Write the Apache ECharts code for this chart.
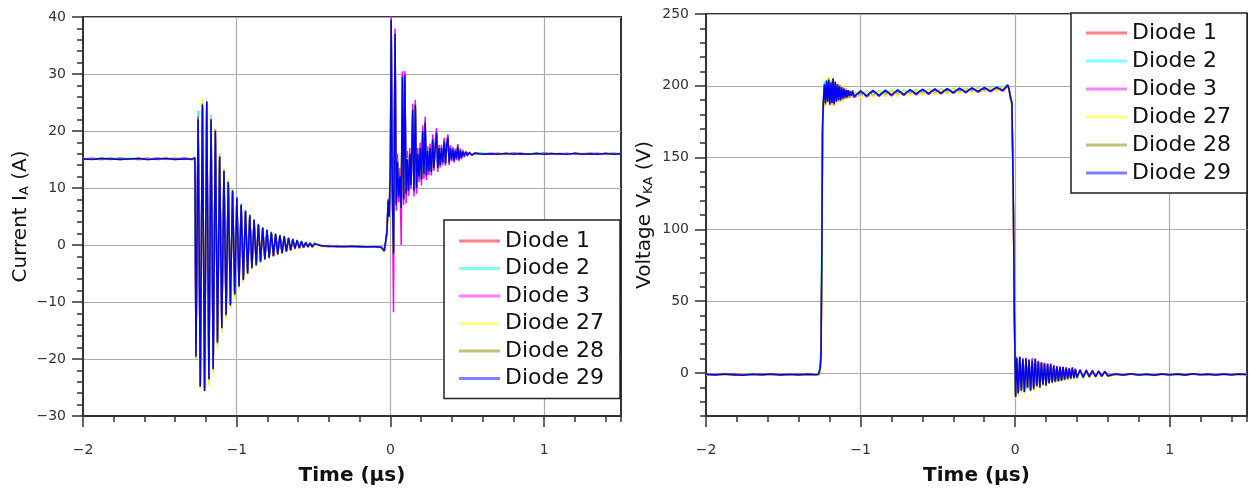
<!DOCTYPE html>
<html>
<head>
<meta charset="utf-8">
<title>Diode switching waveforms</title>
<script src="https://cdn.jsdelivr.net/npm/echarts@6/dist/echarts.min.js"></script>
<style>
  html, body { margin: 0; padding: 0; background: #fff; }
  #chart { width: 1249px; height: 491px; }
</style>
</head>
<body>
<div id="chart"></div>
<script>
// sample times (µs) for the current plot
const timeA = [
  -2, -1.94, -1.88, -1.82, -1.76, -1.7, -1.64, -1.58, -1.52, -1.46, -1.4, -1.34, -1.29, -1.272,
  -1.265, -1.251, -1.237, -1.223, -1.209, -1.195, -1.181, -1.167, -1.153, -1.139, -1.125, -1.111, -1.097, -1.083,
  -1.069, -1.055, -1.041, -1.027, -1.013, -0.999, -0.985, -0.971, -0.957, -0.943, -0.929, -0.915, -0.901, -0.887,
  -0.873, -0.859, -0.845, -0.831, -0.817, -0.803, -0.789, -0.775, -0.761, -0.747, -0.733, -0.719, -0.705, -0.691,
  -0.677, -0.663, -0.649, -0.635, -0.621, -0.607, -0.593, -0.579, -0.565, -0.551, -0.537, -0.523, -0.509, -0.495,
  -0.45, -0.4, -0.35, -0.3, -0.25, -0.2, -0.15, -0.1, -0.06,
  -0.04, -0.03, -0.022, -0.015, -0.008, 0, 0.005, 0.012, 0.02, 0.03, 0.038, 0.046, 0.054, 0.062, 0.07, 0.078,
  0.086, 0.094, 0.102, 0.11, 0.118, 0.126, 0.134, 0.145, 0.153, 0.162, 0.17, 0.178, 0.186, 0.194, 0.202, 0.21,
  0.218, 0.226, 0.234, 0.242, 0.25, 0.258, 0.266, 0.275, 0.283, 0.291, 0.3, 0.308, 0.316, 0.324, 0.332, 0.34,
  0.35, 0.358, 0.366, 0.374, 0.382, 0.39, 0.398, 0.406, 0.414, 0.422, 0.43, 0.438, 0.446, 0.454, 0.462, 0.47,
  0.48, 0.49, 0.5, 0.515, 0.53, 0.55,
  0.6, 0.65, 0.7, 0.75, 0.8, 0.85, 0.9, 0.95, 1, 1.05, 1.1, 1.15, 1.2, 1.25, 1.3, 1.35, 1.4, 1.45, 1.5,
]

// anode current (A), one array per diode, same order as timeA
const diode1Current = [
  15.0, 15.1, 15.1, 15.2, 15.0, 15.1, 15.1, 15.2, 15.0, 15.1, 15.1, 15.2, 15.0, 15.2,
  -19.0, 21.5, -24.5, 24.0, -25.0, 24.8, -23.0, 21.5, -21.2, 19.6, -16.6, 15.2, -14.0, 12.8,
  -11.8, 10.7, -10.2, 9.2, -8.3, 8.0, -7.0, 6.8, -5.9, 5.7, -4.7, 5.0, -3.9, 4.2,
  -3.4, 3.5, -2.8, 2.9, -2.4, 2.5, -2.1, 2.1, -1.8, 1.8, -1.5, 1.6, -1.3, 1.4,
  -1.0, 1.1, -0.8, 0.9, -0.6, 0.7, -0.5, 0.5, -0.4, 0.4, -0.3, 0.3, -0.2, 0.2,
  -0.2, -0.1, -0.3, -0.2, -0.3, -0.2, -0.3, -0.4, -0.3,
  -0.9, 0.6, 2.2, 7.2, 4.6, 13.0, 38.8, 9.5, -1.0, 36.5, 7.5, 14.0, 8.8, 11.5, 6.8, 29.0,
  8.5, 29.2, 9.3, 14.8, 9.8, 15.6, 10.8, 23.2, 9.8, 24.2, 10.3, 15.8, 12.2, 16.8, 11.8, 19.6,
  12.7, 21.1, 12.4, 16.3, 13.2, 16.8, 13.0, 18.2, 13.7, 16.8, 19.4, 13.7, 16.8, 14.2, 16.8, 14.7,
  18.0, 14.5, 17.3, 18.6, 14.7, 16.8, 15.1, 16.6, 15.0, 16.4, 15.3, 17.1, 15.1, 16.4, 15.4, 16.3,
  15.7, 16.2, 15.9, 16.1, 15.9, 16.0,
  16.0, 15.9, 16.1, 15.9, 16.0, 16.1, 15.9, 16.0, 15.9, 16.1, 15.9, 16.0, 15.9, 16.0, 16.1, 15.9, 16.0, 15.9, 16.1,
]
const diode2Current = [
  15.2, 15.1, 15.0, 15.2, 15.1, 15.2, 15.0, 15.1, 15.2, 15.0, 15.1, 15.2, 15.1, 15.2,
  -18.0, 23.5, -24.0, 25.0, -24.6, 24.2, -24.2, 22.8, -20.8, 19.2, -17.6, 16.0, -14.0, 13.4,
  -11.6, 11.4, -10.0, 9.8, -8.2, 8.5, -6.8, 7.3, -5.8, 6.2, -4.6, 5.4, -3.8, 4.5,
  -3.3, 3.7, -2.7, 3.1, -2.3, 2.7, -2.0, 2.3, -1.7, 2.0, -1.4, 1.8, -1.2, 1.6,
  -1.0, 1.3, -0.7, 1.1, -0.5, 0.9, -0.4, 0.7, -0.3, 0.5, -0.2, 0.4, -0.2, 0.3,
  -0.1, -0.2, -0.1, -0.2, -0.3, -0.2, -0.2, -0.3, -0.3,
  -0.8, 1.0, 3.0, 8.2, 5.5, 15.0, 39.0, 11.0, -2.0, 37.5, 7.2, 15.0, 8.2, 12.5, 7.0, 30.0,
  7.6, 30.2, 8.6, 15.6, 9.2, 16.4, 10.2, 24.0, 9.2, 25.0, 9.7, 16.4, 11.7, 17.4, 11.2, 20.2,
  12.2, 21.9, 11.9, 16.9, 12.7, 17.4, 12.5, 18.9, 13.2, 17.4, 20.1, 13.2, 17.3, 13.8, 17.3, 14.2,
  18.5, 14.0, 17.8, 19.2, 14.2, 17.3, 14.8, 17.1, 14.6, 16.8, 15.0, 17.6, 14.8, 16.8, 15.1, 16.6,
  15.4, 16.4, 15.7, 16.3, 15.7, 16.2,
  16.1, 16.0, 15.9, 16.0, 16.1, 15.9, 16.0, 16.1, 16.0, 15.9, 16.1, 16.0, 16.0, 15.9, 16.1, 16.0, 15.9, 16.1, 16.0,
]
const diode3Current = [
  15.1, 15.2, 15.1, 15.0, 15.2, 15.1, 15.0, 15.1, 15.2, 15.1, 15.0, 15.2, 15.1, 15.1,
  -19.2, 22.4, -25.0, 24.2, -25.2, 25.0, -23.8, 21.6, -22.0, 20.4, -17.2, 15.0, -14.8, 13.2,
  -12.4, 11.2, -10.6, 9.2, -8.8, 8.4, -7.3, 6.8, -6.2, 6.0, -5.0, 5.0, -4.1, 4.3,
  -3.6, 3.5, -3.0, 2.9, -2.6, 2.5, -2.3, 2.1, -2.0, 1.8, -1.7, 1.6, -1.5, 1.4,
  -1.2, 1.1, -1.0, 0.9, -0.7, 0.7, -0.6, 0.5, -0.5, 0.3, -0.4, 0.2, -0.4, 0.1,
  -0.2, -0.3, -0.2, -0.3, -0.3, -0.2, -0.4, -0.3, -0.5,
  -1.2, 0.5, 2.8, 8.0, 5.2, 16.5, 40.3, 12.0, -11.8, 38.0, 6.0, 16.0, 7.5, 13.5, 0.0, 30.5,
  7.0, 30.5, 7.3, 16.5, 8.6, 17.0, 9.8, 24.8, 8.5, 25.5, 9.0, 17.0, 11.0, 18.0, 10.5, 21.0,
  11.6, 22.5, 11.4, 17.3, 12.3, 17.8, 12.2, 19.4, 13.0, 17.8, 20.5, 12.8, 17.6, 13.6, 17.6, 14.0,
  18.8, 13.9, 18.0, 19.4, 14.0, 17.5, 14.7, 17.2, 14.5, 16.9, 14.9, 17.7, 14.7, 16.9, 15.0, 16.7,
  15.4, 16.5, 15.6, 16.3, 15.7, 16.2,
  15.9, 16.1, 16.0, 15.9, 16.1, 16.0, 15.9, 16.0, 16.1, 16.0, 15.9, 16.1, 15.9, 16.0, 16.0, 16.1, 15.9, 16.0, 16.0,
]
const diode27Current = [
  15.0, 15.1, 15.2, 15.1, 15.1, 15.0, 15.2, 15.1, 15.0, 15.2, 15.1, 15.0, 15.2, 15.1,
  -20.0, 21.0, -25.2, 25.6, -25.8, 24.6, -24.6, 22.4, -22.6, 20.6, -18.2, 15.8, -15.4, 13.4,
  -13.0, 11.6, -11.2, 9.8, -9.4, 8.0, -7.8, 6.6, -6.6, 5.6, -5.4, 4.8, -4.4, 4.0,
  -3.8, 3.3, -3.2, 2.7, -2.7, 2.4, -2.4, 2.0, -2.0, 1.7, -1.8, 1.5, -1.5, 1.3,
  -1.2, 1.0, -1.0, 0.8, -0.8, 0.6, -0.6, 0.5, -0.5, 0.3, -0.4, 0.2, -0.3, 0.1,
  -0.3, -0.2, -0.2, -0.3, -0.3, -0.3, -0.2, -0.4, -0.4,
  -1.1, 0.4, 2.0, 7.0, 4.5, 13.5, 39.0, 9.0, -1.5, 36.5, 7.8, 14.2, 9.0, 11.8, 7.0, 29.2,
  8.8, 29.4, 9.6, 15.2, 10.0, 15.8, 11.0, 23.4, 10.0, 24.4, 10.6, 16.1, 12.4, 17.0, 12.0, 19.8,
  12.9, 21.3, 12.6, 16.6, 13.3, 17.0, 13.1, 18.4, 13.9, 17.0, 19.6, 13.9, 17.0, 14.4, 17.0, 14.8,
  18.1, 14.6, 17.4, 18.8, 14.9, 17.0, 15.2, 16.7, 15.2, 16.5, 15.4, 17.2, 15.2, 16.5, 15.5, 16.4,
  15.8, 16.3, 15.9, 16.1, 16.0, 16.0,
  15.9, 16.0, 16.0, 16.1, 15.9, 15.9, 16.1, 16.0, 15.9, 16.0, 16.1, 15.9, 16.0, 16.1, 15.9, 16.0, 16.1, 16.0, 15.9,
]
const diode28Current = [
  15.1, 15.1, 15.0, 15.1, 15.2, 15.1, 15.1, 15.0, 15.1, 15.1, 15.2, 15.1, 15.0, 15.2,
  -19.8, 22.6, -24.9, 24.8, -25.4, 25.0, -23.6, 22.2, -21.5, 20.2, -17.3, 15.6, -14.6, 13.1,
  -12.4, 11.1, -10.7, 9.6, -8.8, 8.3, -7.4, 7.1, -6.2, 6.0, -5.1, 5.3, -4.1, 4.5,
  -3.6, 3.7, -3.0, 3.1, -2.6, 2.7, -2.3, 2.3, -2.0, 2.0, -1.7, 1.8, -1.5, 1.6,
  -1.2, 1.3, -1.0, 1.1, -0.7, 0.9, -0.6, 0.7, -0.5, 0.5, -0.4, 0.4, -0.3, 0.3,
  -0.2, -0.2, -0.3, -0.2, -0.2, -0.3, -0.3, -0.3, -0.4,
  -1.0, 0.7, 2.4, 7.6, 4.9, 14.2, 39.2, 10.2, -1.8, 36.8, 7.2, 14.6, 8.6, 12.1, 6.6, 29.4,
  8.1, 29.6, 9.1, 15.1, 9.6, 16.1, 10.6, 23.6, 9.6, 24.5, 10.1, 16.1, 12.1, 17.1, 11.6, 19.9,
  12.6, 21.4, 12.3, 16.6, 13.1, 17.1, 12.9, 18.6, 13.6, 17.1, 19.6, 13.6, 17.1, 14.1, 17.1, 14.6,
  18.1, 14.4, 17.6, 18.8, 14.6, 17.1, 15.1, 16.9, 14.9, 16.6, 15.3, 17.2, 15.1, 16.6, 15.4, 16.5,
  15.7, 16.3, 15.8, 16.2, 15.8, 16.1,
  16.0, 15.9, 16.0, 16.0, 16.1, 15.9, 16.0, 15.9, 16.1, 16.0, 16.0, 15.9, 16.1, 16.0, 15.9, 16.0, 16.0, 16.1, 15.9,
]
const diode29Current = [
  15.1, 15.0, 15.2, 15.1, 15.0, 15.1, 15.2, 15.0, 15.1, 15.2, 15.0, 15.1, 15.1, 15.3,
  -19.5, 22.0, -24.8, 24.6, -25.6, 25.2, -23.5, 22.0, -21.8, 20.0, -17.0, 15.5, -14.5, 13.0,
  -12.2, 11.0, -10.5, 9.5, -8.6, 8.2, -7.2, 7.0, -6.1, 5.9, -4.9, 5.2, -4.0, 4.4,
  -3.5, 3.6, -2.9, 3.0, -2.5, 2.6, -2.2, 2.2, -1.9, 1.9, -1.6, 1.7, -1.4, 1.5,
  -1.1, 1.2, -0.9, 1.0, -0.6, 0.8, -0.5, 0.6, -0.4, 0.4, -0.3, 0.3, -0.3, 0.2,
  -0.1, -0.2, -0.2, -0.3, -0.2, -0.3, -0.3, -0.3, -0.4,
  -1.0, 0.8, 2.5, 7.8, 5.0, 14.0, 39.5, 10.0, -1.5, 37.0, 7.0, 14.5, 8.5, 12.0, 6.5, 29.5,
  8.0, 29.8, 9.0, 15.0, 9.5, 16.0, 10.5, 23.7, 9.5, 24.6, 10.0, 16.0, 12.0, 17.0, 11.5, 20.0,
  12.5, 21.5, 12.2, 16.5, 13.0, 17.0, 12.8, 18.5, 13.5, 17.0, 19.7, 13.5, 17.0, 14.0, 17.0, 14.5,
  18.2, 14.3, 17.5, 18.9, 14.5, 17.0, 15.0, 16.8, 14.8, 16.5, 15.2, 17.3, 15.0, 16.5, 15.3, 16.4,
  15.6, 16.3, 15.8, 16.2, 15.8, 16.1,
  15.9, 16.0, 15.9, 16.1, 15.9, 16.0, 15.9, 16.1, 15.9, 16.0, 16.0, 15.9, 16.1, 15.9, 16.0, 15.9, 16.1, 15.9, 16.0,
]

// sample times (µs) for the voltage plot
const timeV = [
  -2, -1.94, -1.88, -1.82, -1.76, -1.7, -1.64, -1.58, -1.52, -1.46, -1.4, -1.34, -1.29, -1.272,
  -1.266, -1.262, -1.256, -1.25, -1.246, -1.24, -1.234,
  -1.227, -1.22, -1.213, -1.206, -1.199, -1.192, -1.185, -1.178, -1.171, -1.164, -1.157, -1.15, -1.143,
  -1.136, -1.129, -1.122, -1.115, -1.108, -1.101, -1.094, -1.087, -1.08, -1.073, -1.066, -1.059, -1.052,
  -1.04, -1, -0.96, -0.92, -0.88, -0.84, -0.8, -0.76, -0.72, -0.68, -0.64, -0.6, -0.56,
  -0.52, -0.48, -0.44, -0.4, -0.36, -0.32, -0.28, -0.24, -0.2, -0.16, -0.12, -0.08,
  -0.048, -0.04, -0.032, -0.021, -0.013, -0.009, -0.005, 0, 0.003,
  0.01, 0.02, 0.03, 0.04, 0.05, 0.06, 0.07, 0.08, 0.09, 0.1, 0.11, 0.12, 0.13, 0.14, 0.15, 0.16, 0.17, 0.18, 0.19, 0.2,
  0.21, 0.22, 0.23, 0.24, 0.25, 0.26, 0.27, 0.28, 0.29, 0.3, 0.31, 0.32, 0.33, 0.34, 0.35, 0.36, 0.37, 0.38, 0.39, 0.4,
  0.42, 0.44, 0.46, 0.48, 0.5, 0.52, 0.54, 0.56, 0.58, 0.6,
  0.65, 0.7, 0.75, 0.8, 0.85, 0.9, 0.95, 1, 1.05, 1.1, 1.15, 1.2, 1.25, 1.3, 1.35, 1.4, 1.45, 1.5,
]

// cathode-anode voltage (V), one array per diode, same order as timeV
const diode1Voltage = [
  -1.2, -0.9, -1.4, -1.0, -0.8, -1.3, -1.1, -1.5, -0.9, -1.2, -0.8, -1.3, -1.0, -1.1,
  -0.8, 2.0, 10.0, 85.0, 168.0, 188.0, 200.0,
  189, 202, 188, 203, 188, 203, 187, 204, 188, 202, 190, 200, 189,
  199, 191, 198, 190, 197, 192, 198, 191, 196, 192, 197, 192, 195,
  192.0, 196.0, 192.5, 196.2, 192.8, 196.4, 193.2, 196.6, 193.5, 196.9, 193.9, 197.1, 194.2,
  197.3, 194.6, 197.6, 195.0, 197.8, 195.3, 198.1, 195.7, 198.3, 196.0, 198.6, 196.5,
  200.0, 197.5, 192.0, 186.0, 128.0, 86.0, 36.0, 3.0, -15.0,
  9.5, -13, 10.5, -11, 10, -12, 9, -11, 8.5, -11, 9, -10, 9, -9.5, 7.5, -9, 7.5, -7.5, 6, -8,
  6.5, -6.5, 5.5, -6, 5, -5.5, 4, -5, 4, -4.6, 3.5, -4.2, 3.2, -3.8, 3.2, -3.5, 3, -3.2, 2.2, -3.0,
  1.8, -2.8, 1.6, -2.4, 1.3, -2.3, 1.0, -2.0, 0.8, -1.8,
  -1.0, -1.3, -0.8, -1.5, -1.1, -1.3, -0.9, -1.4, -1.0, -1.2, -0.8, -1.4, -1.1, -1.2, -0.9, -1.5, -1.0, -1.2,
]
const diode2Voltage = [
  -0.9, -1.3, -1.0, -1.5, -1.1, -0.8, -1.4, -1.0, -1.2, -0.9, -1.3, -1.1, -0.8, -1.2,
  -0.6, 5.0, 20.0, 120.0, 176.0, 192.0, 203.0,
  190, 204, 188, 202, 189, 204, 189, 203, 188, 201, 190, 202, 191,
  199, 191, 198, 192, 199, 192, 196, 193, 197, 192, 196, 194, 196,
  196.2, 193.0, 196.5, 193.3, 196.7, 193.7, 196.9, 194.0, 197.2, 194.4, 197.4, 194.7, 197.7,
  195.0, 197.9, 195.4, 198.2, 195.7, 198.4, 196.1, 198.7, 196.4, 198.9, 196.8, 199.2,
  200.8, 198.5, 194.0, 189.0, 138.0, 95.0, 44.0, 8.0, -14.0,
  11.5, -13, 10, -13.5, 10.5, -11, 9.5, -11.5, 9.5, -10.5, 9, -11.5, 8.5, -9.5, 8.5, -9, 6.5, -8.5, 7, -7.5,
  5.5, -7.5, 6.5, -6, 5.5, -6.5, 4, -5, 4.5, -4.8, 3.6, -4.8, 3.8, -3.6, 3.2, -4.0, 3.0, -3.8, 2.8, -2.9,
  2.2, -3.2, 1.9, -2.4, 1.7, -2.7, 1.3, -2.1, 1.1, -2.2,
  -0.7, -1.4, -0.8, -1.2, -1.0, -1.5, -0.8, -1.1, -0.9, -1.4, -0.7, -1.3, -1.0, -1.1, -0.8, -1.4, -0.9, -1.2,
]
const diode3Voltage = [
  -1.3, -1.0, -1.2, -0.8, -1.4, -1.1, -0.9, -1.3, -1.0, -1.5, -1.1, -0.9, -1.3, -1.2,
  -1.2, 1.0, 8.0, 80.0, 165.0, 187.0, 199.0,
  187, 204, 190, 203, 186, 203, 189, 204, 186, 202, 188, 202, 189,
  201, 189, 200, 190, 198, 191, 198, 191, 197, 192, 197, 192, 197,
  191.8, 195.6, 192.2, 196.0, 192.6, 196.1, 193.0, 196.5, 193.3, 196.6, 193.7, 197.0, 194.0,
  197.1, 194.4, 197.5, 194.7, 197.6, 195.1, 198.0, 195.4, 198.1, 195.8, 198.6, 196.2,
  200.2, 197.8, 192.5, 187.5, 130.0, 88.0, 38.0, 4.0, -16.0,
  10, -15, 11.5, -12.5, 10, -13.5, 10.5, -10.5, 9.5, -12.5, 10.4, -11.5, 9.5, -9.8, 8.5, -10.5, 7.5, -8.5, 7, -9,
  6.5, -7.5, 6.5, -7, 5.5, -6.5, 5, -6, 4.5, -5.5, 4.5, -5, 4, -4.5, 3.5, -4.2, 4, -4, 3, -3.6,
  2.4, -3.4, 2.2, -3.0, 1.9, -2.8, 1.5, -2.5, 1.3, -2.3,
  -1.0, -1.7, -0.7, -1.5, -1.0, -1.4, -0.8, -1.6, -0.9, -1.3, -0.8, -1.5, -0.8, -1.3, -0.9, -1.4, -0.7, -1.3,
]
const diode27Voltage = [
  -1.4, -1.1, -1.6, -1.2, -1.0, -1.5, -1.2, -1.4, -1.1, -1.6, -1.2, -1.0, -1.4, -1.3,
  -1.3, 0.5, 6.0, 60.0, 150.0, 184.0, 198.0,
  186, 205, 188, 206, 186, 204, 187, 206, 186, 204, 188, 202, 189,
  201, 189, 200, 190, 199, 191, 198, 191, 197, 192, 197, 192, 196,
  195.8, 191.6, 196.1, 192.0, 196.3, 192.4, 196.6, 192.8, 196.8, 193.2, 197.1, 193.5, 197.4,
  193.9, 197.6, 194.3, 197.9, 194.6, 198.1, 195.0, 198.4, 195.4, 198.7, 195.9, 199.0,
  200.3, 197.2, 191.5, 185.0, 120.0, 80.0, 30.0, 0.0, -18.0,
  9, -16, 10, -14, 9, -14.5, 9.5, -12, 8.5, -13, 8, -12.5, 9, -10.5, 7.5, -11, 6.5, -9.5, 6, -9.5,
  5.5, -8, 5.5, -7.5, 4.5, -7, 4, -6.5, 3.5, -6, 3.5, -5.5, 3, -5, 2.5, -4.6, 3, -4.4, 2, -4,
  1.5, -3.8, 1.3, -3.4, 1.0, -3.2, 0.8, -2.8, 0.6, -2.6,
  -1.2, -1.8, -1.0, -1.6, -1.2, -1.9, -1.1, -1.5, -1.3, -1.7, -1.0, -1.6, -1.2, -1.7, -1.0, -1.5, -1.2, -1.4,
]
const diode28Voltage = [
  -1.1, -1.3, -0.9, -1.4, -1.2, -1.0, -1.5, -0.9, -1.2, -1.3, -1.0, -1.4, -1.1, -0.9,
  -0.9, 2.5, 11.0, 88.0, 170.0, 189.0, 200.0,
  187, 204, 189, 205, 187, 203, 188, 205, 188, 202, 189, 201, 190,
  200, 190, 199, 191, 198, 191, 197, 192, 197, 192, 196, 193, 196,
  192.6, 196.3, 192.9, 196.4, 193.3, 196.7, 193.6, 196.8, 194.0, 197.2, 194.3, 197.3, 194.7,
  197.7, 195.0, 197.8, 195.4, 198.2, 195.7, 198.3, 196.1, 198.7, 196.4, 198.8, 196.9,
  200.4, 197.9, 192.8, 187.8, 131.0, 89.0, 39.0, 4.5, -16.5,
  10, -14.5, 10.5, -12.5, 9, -13.5, 9.5, -10.5, 8.5, -12.5, 8, -11.5, 9.5, -9.5, 7.5, -10.5, 6.5, -8.5, 6, -9,
  5.5, -7.5, 5.5, -7, 4.5, -6.5, 4, -6, 3.5, -5.5, 3.5, -5, 3, -4.5, 2.5, -4.2, 3, -3.9, 2.2, -3.6,
  1.8, -3.3, 1.5, -3.0, 1.2, -2.8, 1.0, -2.5, 0.8, -2.3,
  -0.9, -1.6, -0.7, -1.5, -1.0, -1.7, -0.8, -1.4, -0.9, -1.6, -0.7, -1.3, -1.0, -1.5, -0.8, -1.4, -0.9, -1.2,
]
const diode29Voltage = [
  -1.0, -1.5, -0.8, -1.2, -1.6, -0.9, -1.3, -0.7, -1.4, -1.0, -1.5, -0.8, -1.2, -1.0,
  -1.0, 3.0, 12.0, 90.0, 172.0, 190.0, 201.0,
  188, 203, 189, 204, 187, 202, 188, 205, 187, 203, 189, 201, 190,
  200, 190, 199, 191, 198, 192, 197, 192, 197, 193, 196, 193, 196,
  192.5, 196.5, 193.0, 196.8, 193.2, 197.0, 193.6, 197.1, 193.9, 197.4, 194.3, 197.6, 194.6,
  197.8, 194.9, 198.0, 195.3, 198.3, 195.6, 198.5, 196.0, 198.8, 196.3, 199.0, 196.8,
  200.5, 198.0, 193.0, 188.0, 133.0, 90.0, 40.0, 5.0, -17.0,
  10.5, -14, 11, -12, 9.5, -13, 10, -10, 9, -12, 8.5, -11, 10, -9, 8, -10, 7, -8, 6.5, -8.5,
  6, -7, 6, -6.5, 5, -6, 4.5, -5.5, 4, -5, 4, -4.5, 3.5, -4, 3, -3.8, 3.5, -3.5, 2.5, -3.2,
  2.0, -3.0, 1.8, -2.6, 1.5, -2.5, 1.2, -2.2, 1.0, -2.0,
  -0.8, -1.5, -0.6, -1.4, -0.9, -1.6, -0.7, -1.3, -0.8, -1.5, -0.6, -1.2, -0.9, -1.4, -0.7, -1.3, -0.8, -1.1,
]

const diodeNames = ["Diode 1", "Diode 2", "Diode 3", "Diode 27", "Diode 28", "Diode 29"]
const currents = [diode1Current, diode2Current, diode3Current, diode27Current, diode28Current, diode29Current]
const voltages = [diode1Voltage, diode2Voltage, diode3Voltage, diode27Voltage, diode28Voltage, diode29Voltage]

const timeTicks = [-2, -1, 0, 1]
const voltageTicks = [0, 50, 100, 150, 200, 250]

const traceColors = ["#ff0000", "#00ffff", "#ff00ff", "#ffff00", "#808000", "#0000ff"]
const legendColors = ["#ff8080", "#80ffff", "#ff80ff", "#ffff80", "#c0c080", "#8080ff"]

const FONT = "DejaVu Sans"
const DARK = "#333333"
const GRID = "#ababab"
const CLEAR = "rgba(0,0,0,0)"

currents.concat(voltages).forEach((arr, i) => {
  const n = i < 6 ? timeA.length : timeV.length
  if (arr.length !== n) console.error("length mismatch", i, arr.length, n)
})

const minus = v => (v < 0 ? "\u2212" + Math.abs(v) : String(v))
const pairs = (times, values) => times.map((t, i) => [t, values[i]])

const tickLabel = {fontFamily: FONT, fontSize: 14, color: DARK, formatter: minus}
const tickLine = {color: DARK, width: 1.5}
const axisName = {fontFamily: FONT, fontSize: 20, color: "#111"}
const subStyle = {rich: {sub: {fontFamily: FONT, fontSize: 13, color: "#111", padding: [7, 0, 0, 0]}}}

// time axis: every 0.2 µs is a short tick, every 5th one carries the grid line
const timeAxis = gridIndex => ({
  type: "value",
  gridIndex,
  min: -2,
  max: 1.5,
  interval: 0.2,
  position: "bottom",
  name: "Time (μs)",
  nameLocation: "middle",
  nameGap: 50,
  nameTextStyle: {...axisName, fontWeight: "bold"},
  axisLine: {onZero: false, lineStyle: {color: DARK, width: 2}},
  axisTick: {length: 6, lineStyle: tickLine},
  axisLabel: {show: false},
  splitLine: {show: true, lineStyle: {color: [GRID, CLEAR, CLEAR, CLEAR, CLEAR], width: 1.2}},
})

// long ticks + labels at whole microseconds
const timeMajor = gridIndex => ({
  type: "value",
  gridIndex,
  min: -2,
  max: 1.5,
  position: "bottom",
  axisLine: {show: false, onZero: false},
  axisTick: {length: 11, customValues: timeTicks, lineStyle: tickLine},
  axisLabel: {...tickLabel, customValues: timeTicks, margin: 27},
  splitLine: {show: false},
})

const legendBox = (left, top, gap, pad) => ({
  orient: "vertical",
  left,
  top,
  padding: pad,
  itemGap: gap,
  itemWidth: 41,
  itemHeight: 3,
  icon: "rect",
  selectedMode: false,
  backgroundColor: "#fff",
  borderColor: "#222",
  borderWidth: 1.5,
  textStyle: {fontFamily: FONT, fontSize: 22, lineHeight: 22, color: "#111"},
  data: diodeNames.map((name, i) => ({name, icon: "rect", itemStyle: {color: legendColors[i]}})),
})

const option = {
  animation: false,
  backgroundColor: "#fff",
  grid: [
    {left: 83, top: 17, width: 538, height: 404, show: true, borderColor: DARK, borderWidth: 2},
    {left: 706, top: 14, width: 541, height: 406, show: true, borderColor: DARK, borderWidth: 2},
  ],
  xAxis: [timeAxis(0), timeMajor(0), timeAxis(1), timeMajor(1)],
  yAxis: [
    {
      type: "value",
      gridIndex: 0,
      min: -30,
      max: 40,
      interval: 10,
      position: "left",
      name: "Current I{sub|A} (A)",
      nameLocation: "middle",
      nameGap: 52,
      nameTextStyle: {...axisName, ...subStyle},
      axisLine: {onZero: false, lineStyle: {color: DARK, width: 2}},
      axisTick: {length: 11, lineStyle: tickLine},
      minorTick: {show: true, splitNumber: 5, length: 6, lineStyle: tickLine},
      axisLabel: {...tickLabel, margin: 17},
      splitLine: {show: true, lineStyle: {color: GRID, width: 1.2}},
    },
    {
      type: "value",
      gridIndex: 1,
      min: -30,
      max: 250,
      interval: 10,
      position: "left",
      name: "Voltage V{sub|KA} (V)",
      nameLocation: "middle",
      nameGap: 51,
      nameTextStyle: {...axisName, ...subStyle},
      axisLine: {onZero: false, lineStyle: {color: DARK, width: 2}},
      axisTick: {length: 6, lineStyle: tickLine},
      axisLabel: {show: false},
      splitLine: {show: true, lineStyle: {color: [CLEAR, CLEAR, CLEAR, GRID, CLEAR], width: 1.2}},
    },
    {
      type: "value",
      gridIndex: 1,
      min: -30,
      max: 250,
      position: "left",
      axisLine: {show: false, onZero: false},
      axisTick: {length: 11, customValues: voltageTicks, lineStyle: tickLine},
      axisLabel: {...tickLabel, customValues: voltageTicks, margin: 17},
      splitLine: {show: false},
    },
  ],
  legend: [
    legendBox(444, 220, 5.5, [10, 16, 9, 15]),
    legendBox(1071, 13, 6, [9, 16, 9, 15]),
  ],
  series: [],
}

diodeNames.forEach((name, i) => {
  option.series.push({
    name,
    type: "line",
    xAxisIndex: 0,
    yAxisIndex: 0,
    data: pairs(timeA, currents[i]),
    symbol: "none",
    showSymbol: false,
    lineStyle: {color: traceColors[i], width: 1.5},
    itemStyle: {color: traceColors[i]},
  })
})
diodeNames.forEach((name, i) => {
  option.series.push({
    name,
    type: "line",
    xAxisIndex: 2,
    yAxisIndex: 1,
    data: pairs(timeV, voltages[i]),
    symbol: "none",
    showSymbol: false,
    lineStyle: {color: traceColors[i], width: 1.5},
    itemStyle: {color: traceColors[i]},
  })
})

const chart = echarts.init(document.getElementById("chart"), null, {renderer: "canvas"})
chart.setOption(option)
</script>
</body>
</html>
